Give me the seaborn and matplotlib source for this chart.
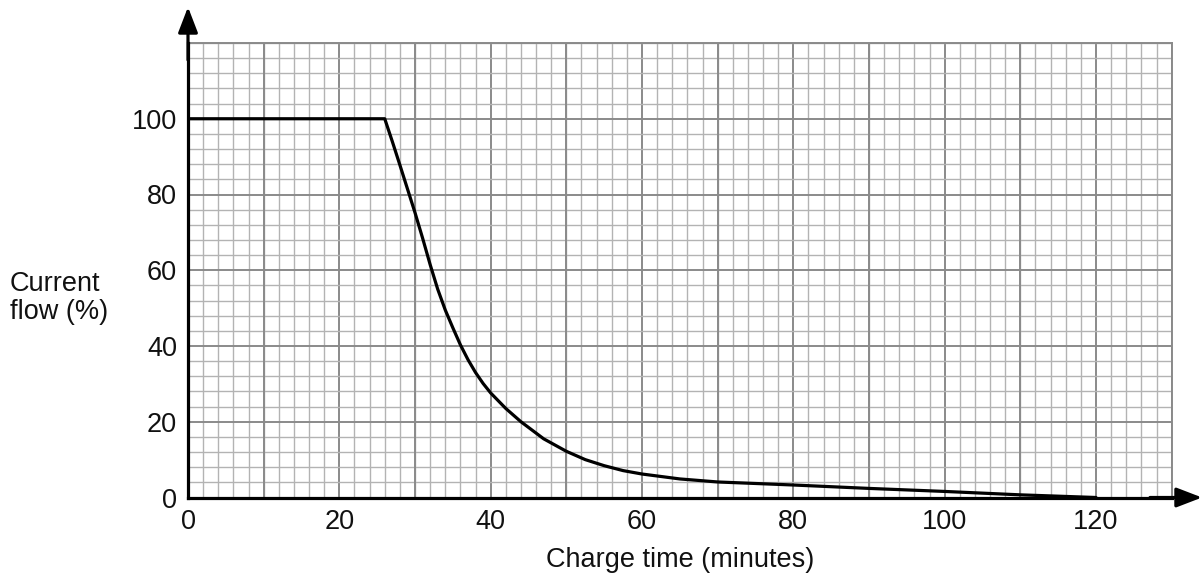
import matplotlib
matplotlib.use("Agg")
import matplotlib.pyplot as plt
import seaborn as sns
import pandas as pd

# Data
time_min = [0, 26, 27, 28, 29, 30, 31, 32, 33, 34, 35, 36, 37, 38, 39, 40, 42, 44, 47,
            50, 52.5, 55, 57.5, 60, 65, 70, 80, 90, 100, 110, 120]
current_pct = [100, 100, 94, 87.8, 81.5, 75.2, 68.5, 61.5, 55, 49.5, 44.8, 40.3, 36.4, 33,
               30.1, 27.6, 23.5, 20, 15.5, 12.2, 10.0, 8.4, 7.1, 6.2, 4.9, 4.1, 3.3, 2.4,
               1.6, 0.7, 0]
x_ticks = [0, 20, 40, 60, 80, 100, 120]
y_ticks = [0, 20, 40, 60, 80, 100]
x_label = "Charge time (minutes)"
y_label = "Current\nflow (%)"

sns.set_theme(style="white")
plt.rcParams['font.family'] = ['Liberation Sans', 'DejaVu Sans']

W, H = 1203, 581
FS = 19.5
fig = plt.figure(figsize=(W / 100, H / 100), dpi=100)
ax = fig.add_axes([188 / W, (H - 497.5) / H, 983.7 / W, 454.5 / H])

df = pd.DataFrame({"t": time_min, "c": current_pct})
sns.lineplot(data=df, x="t", y="c", ax=ax, color="black", linewidth=2.3, zorder=5)

ax.set_xlim(0, 130)
ax.set_ylim(0, 120)

ax.set_xticks(x_ticks)
ax.set_xticks([v for v in range(0, 131, 2) if v not in x_ticks], minor=True)
ax.set_yticks(y_ticks)
ax.set_yticks([v for v in range(0, 121, 4) if v not in y_ticks], minor=True)

ax.grid(which="major", color="#8a8a8a", linewidth=1.4)
ax.grid(which="minor", color="#b3b3b3", linewidth=1.0)
# heavier grid lines every 10 on x (unlabelled) and at the top edge
for xv in range(10, 131, 20):
    ax.axvline(xv, color="#8a8a8a", linewidth=1.4, zorder=1)
ax.axhline(120, color="#8a8a8a", linewidth=1.4, zorder=1)
ax.set_axisbelow(True)

ax.set_xticklabels([str(v) for v in x_ticks], fontsize=FS)
ax.set_yticklabels([str(v) for v in y_ticks], fontsize=FS)
ax.tick_params(axis="both", which="major", direction="out", length=6, width=1.0,
               color="#555555", pad=2, labelcolor="#111111")
ax.tick_params(axis="y", which="minor", direction="out", length=3, width=0.8, color="#b3b3b3")
ax.tick_params(axis="x", which="minor", length=0)

for s in ["top", "right"]:
    ax.spines[s].set_color("#8a8a8a")
    ax.spines[s].set_linewidth(1.4)
for s in ["left", "bottom"]:
    ax.spines[s].set_color("black")
    ax.spines[s].set_linewidth(2.3)
    ax.spines[s].set_zorder(6)

ax.set_xlabel(x_label, fontsize=FS, color="#111111", labelpad=9)
ax.set_ylabel("")
fig.text(10 / W, 1 - 298 / H, y_label, fontsize=FS, color="#111111",
         ha="left", va="center", linespacing=1.1)

# Axis arrows
ax.annotate("", xy=(1202 / W, (H - 497.5) / H), xytext=(1150 / W, (H - 497.5) / H),
            xycoords="figure fraction", textcoords="figure fraction",
            arrowprops=dict(arrowstyle="-|>,head_length=1.3,head_width=0.5", color="black",
                            lw=2.3, shrinkA=0, shrinkB=0))
ax.annotate("", xy=(188 / W, 1 - 7 / H), xytext=(188 / W, 1 - 60 / H),
            xycoords="figure fraction", textcoords="figure fraction",
            arrowprops=dict(arrowstyle="-|>,head_length=1.3,head_width=0.5", color="black",
                            lw=2.3, shrinkA=0, shrinkB=0))

fig.savefig("out.png", dpi=100, facecolor="white")
